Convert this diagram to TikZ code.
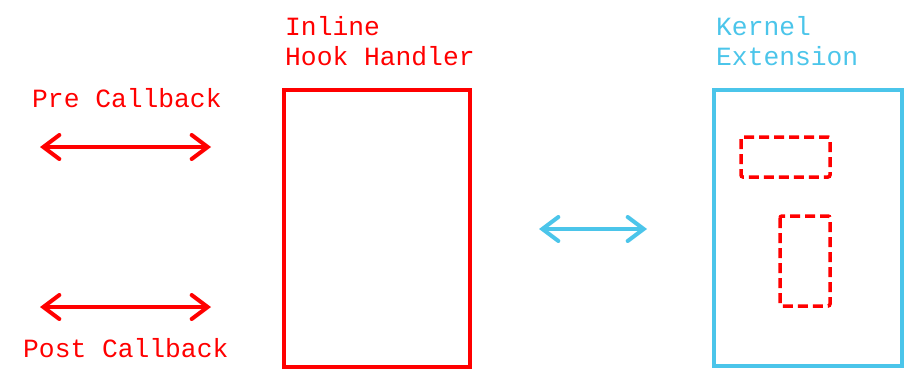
\documentclass[tikz,border=0pt]{standalone}
\usepackage{fontspec}
\setmonofont{Liberation Mono}
\usetikzlibrary{arrows.meta}
\definecolor{hred}{RGB}{255,0,0}
\definecolor{kblue}{RGB}{75,197,234}
\begin{document}
\begin{tikzpicture}[x=1pt,y=-1pt,
  lbl/.style={font=\ttfamily\fontsize{26.3}{30}\selectfont, inner sep=0pt, anchor=base west},
  dbox/.style={draw=hred, line width=3.5pt, dash pattern=on 10pt off 5pt, rounded corners=2pt},
  dblarrow/.style={line width=4pt, line cap=round, {Straight Barb[length=16pt,width=24pt,line cap=round]}-{Straight Barb[length=16pt,width=24pt,line cap=round]}}
]
\useasboundingbox (0,0) rectangle (906,372);
% labels
\node[lbl, text=hred] (inl) at (285,35) {Inline};
\node[lbl, text=hred] (hh) at (285,65) {Hook Handler};
\node[lbl, text=kblue] (ker) at (716,35) {Kernel};
\node[lbl, text=kblue] (ext) at (716,65) {Extension};
\node[lbl, text=hred] (pre) at (32,107) {Pre Callback};
\node[lbl, text=hred] (post) at (23,357) {Post Callback};
% boxes
\draw[hred, line width=4pt] (284,90) rectangle (470,367);
\draw[kblue, line width=4pt] (714,90) rectangle (902,366);
\draw[dbox] (741,137) rectangle (830,177);
\draw[dbox] (780,216) rectangle (830,306);
% arrows
\coordinate (p1) at (40,147);
\coordinate (p2) at (211,147);
\coordinate (q1) at (40,307);
\coordinate (q2) at (211,307);
\coordinate (k1) at (539,229);
\coordinate (k2) at (647,229);
\draw[dblarrow, hred] (p1) -- (p2);
\draw[dblarrow, hred] (q1) -- (q2);
\draw[dblarrow, kblue] (k1) -- (k2);
\end{tikzpicture}
\end{document}
